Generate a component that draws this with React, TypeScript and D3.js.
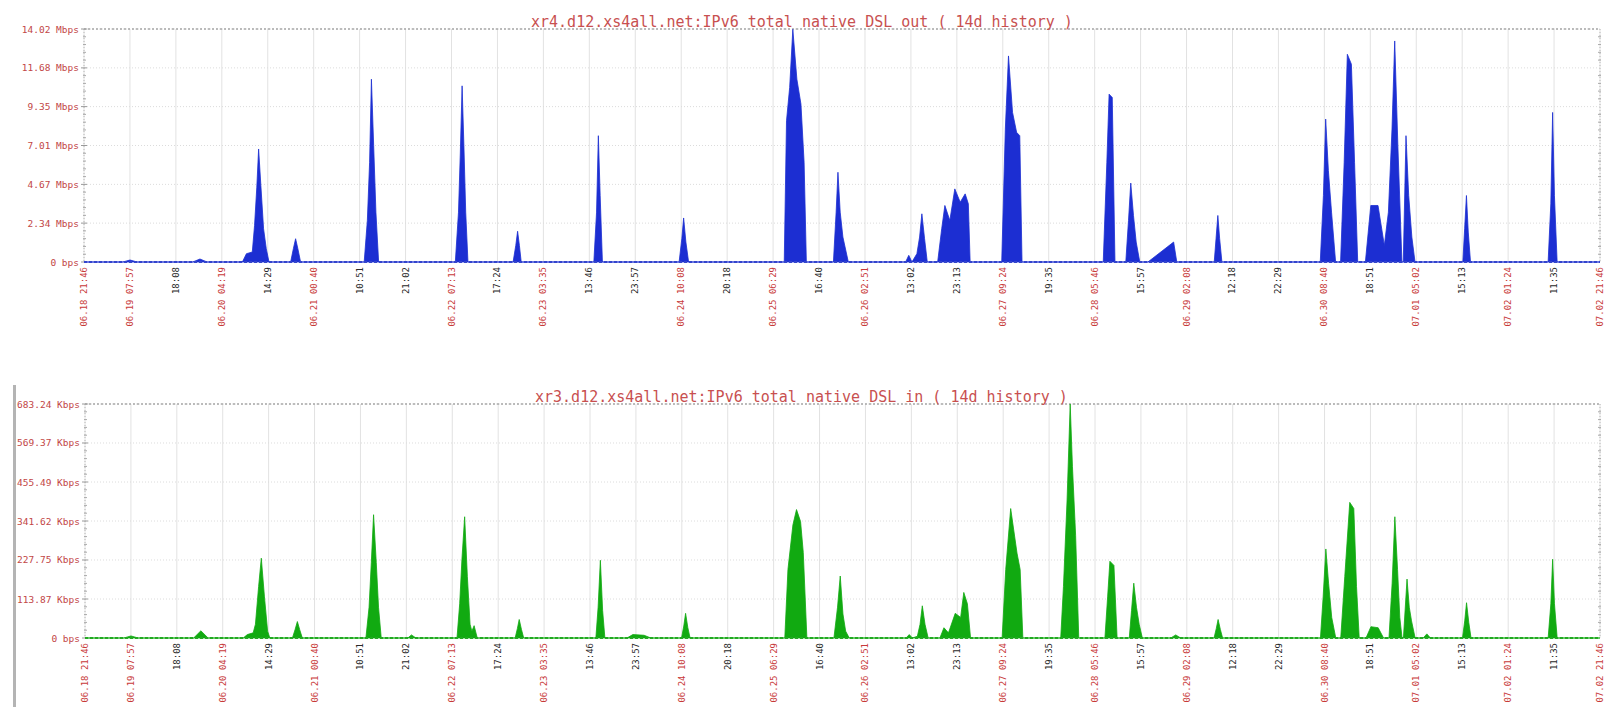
import React from "react";
import * as d3 from "d3";

const TITLE_OUT = "xr4.d12.xs4all.net:IPv6 total native DSL out ( 14d history )";
const TITLE_IN = "xr3.d12.xs4all.net:IPv6 total native DSL in ( 14d history )";

const TOTAL_HOURS = 336;

const X_LABELS = [
  "06.18 21:46", "06.19 07:57", "18:08", "06.20 04:19", "14:29", "06.21 00:40",
  "10:51", "21:02", "06.22 07:13", "17:24", "06.23 03:35", "13:46", "23:57",
  "06.24 10:08", "20:18", "06.25 06:29", "16:40", "06.26 02:51", "13:02", "23:13",
  "06.27 09:24", "19:35", "06.28 05:46", "15:57", "06.29 02:08", "12:18", "22:29",
  "06.30 08:40", "18:51", "07.01 05:02", "15:13", "07.02 01:24", "11:35", "07.02 21:46",
];

const OUT_TICKS = [0, 2.34, 4.67, 7.01, 9.35, 11.68, 14.02];
const OUT_TICK_LABELS = ["0 bps", "2.34 Mbps", "4.67 Mbps", "7.01 Mbps", "9.35 Mbps", "11.68 Mbps", "14.02 Mbps"];
const IN_TICKS = [0, 113.87, 227.75, 341.62, 455.49, 569.37, 683.24];
const IN_TICK_LABELS = ["0 bps", "113.87 Kbps", "227.75 Kbps", "341.62 Kbps", "455.49 Kbps", "569.37 Kbps", "683.24 Kbps"];

// [hour since start, Mbps]
const OUT_SERIES: [number, number][] = [
  [0, 0], [8.6, 0], [10.2, 0.12], [11.8, 0],
  [24.1, 0], [25.7, 0.18], [27.3, 0],
  [35.1, 0], [36.0, 0.5], [37.3, 0.6], [37.8, 2.2], [38.3, 4.5], [38.7, 6.8], [39.2, 4.6], [39.8, 2.0], [40.4, 0.8], [41.0, 0],
  [45.8, 0], [46.4, 0.8], [46.9, 1.4], [47.4, 0.8], [48.0, 0],
  [62.1, 0], [62.8, 2.5], [63.3, 6.0], [63.7, 11.0], [64.2, 7.0], [64.7, 3.0], [65.3, 0],
  [82.3, 0], [83.0, 3.0], [83.4, 6.5], [83.8, 10.6], [84.2, 7.0], [84.6, 3.0], [85.1, 0],
  [95.1, 0], [95.7, 1.0], [96.1, 1.85], [96.5, 1.0], [96.9, 0],
  [113.0, 0], [113.6, 3.0], [114.0, 7.6], [114.4, 4.0], [114.9, 0],
  [131.9, 0], [132.5, 1.4], [132.9, 2.65], [133.4, 1.2], [134.0, 0],
  [155.2, 0], [155.7, 8.5], [156.4, 10.5], [157.1, 14.0], [158.0, 11.0], [158.9, 9.5], [159.6, 6.0], [160.1, 0],
  [166.1, 0], [166.7, 3.0], [167.1, 5.4], [167.6, 3.0], [168.2, 1.5], [169.4, 0],
  [182.1, 0], [182.8, 0.4], [183.5, 0], [184.6, 0.5], [185.2, 1.5], [185.7, 2.9], [186.3, 1.4], [186.9, 0],
  [189.2, 0], [190.1, 2.0], [190.8, 3.4], [191.9, 2.5], [193.0, 4.4], [194.2, 3.6], [195.3, 4.1], [196.0, 3.5], [196.4, 0],
  [203.4, 0], [204.2, 8.0], [204.9, 12.4], [205.8, 9.0], [206.7, 7.8], [207.4, 7.6], [207.9, 0],
  [225.9, 0], [226.7, 6.0], [227.2, 10.1], [227.9, 9.9], [228.5, 0],
  [230.9, 0], [231.5, 2.5], [232.0, 4.75], [232.6, 2.8], [233.2, 1.2], [234.0, 0],
  [235.8, 0], [241.5, 1.2], [242.2, 0],
  [250.5, 0], [250.9, 1.4], [251.3, 2.8], [251.7, 1.4], [252.2, 0],
  [274.0, 0], [274.7, 4.0], [275.2, 8.6], [275.8, 5.5], [276.5, 3.0], [277.4, 0],
  [278.5, 0], [279.3, 6.0], [280.0, 12.5], [280.9, 11.9], [281.6, 6.0], [282.3, 0],
  [284.0, 0], [285.2, 3.4], [286.8, 3.4], [288.2, 1.0], [289.1, 3.0], [289.9, 8.0], [290.5, 13.3], [291.2, 7.0], [292.1, 0],
  [292.4, 0], [293.0, 7.6], [293.6, 4.0], [294.3, 1.5], [295.0, 0],
  [305.6, 0], [306.0, 2.0], [306.4, 4.0], [306.8, 1.8], [307.3, 0],
  [324.5, 0], [325.1, 3.5], [325.5, 9.0], [325.9, 4.0], [326.5, 0],
  [336, 0],
];

// [hour since start, Kbps]
const IN_SERIES: [number, number][] = [
  [0, 0], [8.6, 0], [10.2, 6], [11.8, 0],
  [24.1, 0], [25.7, 21], [27.3, 0],
  [35.1, 0], [36.0, 10], [37.3, 15], [37.8, 40], [38.5, 150], [39.1, 233], [39.8, 120], [40.5, 20], [41.0, 0],
  [46.0, 0], [46.6, 25], [47.1, 48], [47.6, 25], [48.2, 0],
  [62.3, 0], [63.0, 90], [63.5, 220], [64.0, 360], [64.6, 220], [65.1, 90], [65.7, 0],
  [71.6, 0], [72.4, 9], [73.4, 0],
  [82.5, 0], [83.1, 100], [83.6, 230], [84.2, 354], [84.8, 180], [85.4, 40], [85.8, 20], [86.3, 36], [87.0, 0],
  [95.4, 0], [95.9, 28], [96.3, 54], [96.8, 25], [97.3, 0],
  [113.3, 0], [113.8, 90], [114.3, 227], [114.8, 80], [115.3, 0],
  [120.2, 0], [121.5, 10], [124.0, 8], [125.5, 0],
  [132.3, 0], [132.8, 35], [133.2, 72], [133.7, 30], [134.2, 0],
  [155.2, 0], [155.9, 200], [157.0, 330], [157.8, 375], [158.7, 340], [159.3, 250], [160.1, 0],
  [166.1, 0], [166.9, 90], [167.5, 181], [168.1, 70], [168.7, 20], [169.5, 0],
  [182.1, 0], [182.8, 10], [183.5, 0], [184.6, 5], [185.2, 40], [185.7, 94], [186.3, 40], [187.0, 0],
  [189.6, 0], [190.5, 30], [191.5, 15], [193.0, 72], [194.2, 60], [194.9, 133], [195.7, 100], [196.4, 0],
  [203.4, 0], [204.2, 200], [205.3, 378], [206.7, 248], [207.4, 200], [208.0, 0],
  [216.4, 0], [217.0, 150], [217.8, 400], [218.5, 683], [219.0, 500], [219.7, 300], [220.4, 0],
  [226.2, 0], [226.8, 120], [227.3, 224], [228.2, 212], [228.9, 0],
  [231.6, 0], [232.1, 80], [232.6, 160], [233.2, 90], [233.8, 40], [234.5, 0],
  [240.8, 0], [241.9, 9], [243.0, 0],
  [250.4, 0], [250.9, 28], [251.3, 54], [251.8, 25], [252.3, 0],
  [274.0, 0], [274.6, 120], [275.2, 260], [275.8, 160], [276.5, 60], [277.4, 0],
  [278.5, 0], [279.4, 180], [280.5, 396], [281.4, 378], [282.0, 150], [282.6, 0],
  [284.1, 0], [285.2, 33], [286.8, 30], [288.0, 0],
  [289.2, 0], [289.9, 160], [290.5, 354], [291.1, 200], [291.6, 60], [292.1, 0],
  [292.4, 0], [293.2, 172], [293.7, 90], [294.2, 50], [295.0, 0],
  [296.8, 0], [297.6, 12], [298.4, 0],
  [305.5, 0], [306.0, 50], [306.4, 103], [306.9, 45], [307.4, 0],
  [324.5, 0], [325.1, 100], [325.5, 230], [325.9, 100], [326.5, 0],
  [336, 0],
];

const MONO = "'DejaVu Sans Mono', 'Liberation Mono', monospace";

type PanelProps = {
  title: string;
  titleX: number;
  series: [number, number][];
  ticks: number[];
  tickLabels: string[];
  left: number;
  right: number;
  top: number;
  bottom: number;
  fill: string;
  zeroColor: string;
};

function Panel(p: PanelProps) {
  const x = d3.scaleLinear().domain([0, TOTAL_HOURS]).range([p.left, p.right]);
  const y = d3.scaleLinear().domain([0, p.ticks[p.ticks.length - 1]]).range([p.bottom, p.top]);
  const area = d3
    .area<[number, number]>()
    .x((d) => x(d[0]))
    .y0(y(0))
    .y1((d) => y(d[1]));
  const labelHours = X_LABELS.map((_, i) => (i * TOTAL_HOURS) / (X_LABELS.length - 1));
  const minor: number[] = [];
  for (let i = 0; i < p.ticks.length - 1; i++) {
    for (let j = 1; j < 5; j++) {
      minor.push(p.ticks[i] + ((p.ticks[i + 1] - p.ticks[i]) * j) / 5);
    }
  }
  return (
    <g>
      {labelHours.map((h, i) => (
        <line key={"vg" + i} x1={x(h)} x2={x(h)} y1={p.top} y2={p.bottom} stroke="#e2e2e2" strokeWidth={1} />
      ))}
      {p.ticks.slice(1).map((t, i) => (
        <line key={"hg" + i} x1={p.left} x2={p.right} y1={y(t)} y2={y(t)} stroke="#dcdcdc" strokeWidth={1} strokeDasharray="1,2" />
      ))}
      <line x1={p.left} x2={p.right} y1={p.top} y2={p.top} stroke="#a8a8a8" strokeWidth={1.5} strokeDasharray="2,2" />
      <line x1={p.left} x2={p.left} y1={p.top} y2={p.bottom} stroke="#b8b8b8" strokeWidth={1} strokeDasharray="1,2" />
      <line x1={p.right} x2={p.right} y1={p.top} y2={p.bottom} stroke="#b8b8b8" strokeWidth={1} strokeDasharray="1,2" />
      {minor.map((m, i) => (
        <g key={"mt" + i}>
          <line x1={p.left - 1} x2={p.left + 2} y1={y(m)} y2={y(m)} stroke="#aaa" strokeWidth={1} />
          <line x1={p.right - 2} x2={p.right + 1} y1={y(m)} y2={y(m)} stroke="#aaa" strokeWidth={1} />
        </g>
      ))}
      {p.ticks.map((t, i) => (
        <line key={"mj" + i} x1={p.left - 3} x2={p.left + 3} y1={y(t)} y2={y(t)} stroke="#999" strokeWidth={1} />
      ))}
      <path d={area(p.series) || ""} fill={p.fill} stroke={p.fill} strokeWidth={0.8} strokeLinejoin="round" />
      <line x1={p.left} x2={p.right} y1={y(0)} y2={y(0)} stroke={p.zeroColor} strokeWidth={2} strokeDasharray="3,2" />
      {p.ticks.map((t, i) => (
        <text
          key={"yl" + i}
          x={p.left - 5}
          y={y(t)}
          textAnchor="end"
          dominantBaseline="central"
          fontFamily={MONO}
          fontSize={9.5}
          fill="#c24646"
        >
          {p.tickLabels[i]}
        </text>
      ))}
      {labelHours.map((h, i) => {
        const lab = X_LABELS[i];
        const red = lab.length > 5;
        return (
          <text
            key={"xl" + i}
            transform={`translate(${x(h)},${p.bottom + 5}) rotate(-90)`}
            textAnchor="end"
            dominantBaseline="central"
            fontFamily={MONO}
            fontSize={9}
            fill={red ? "#c83a3a" : "#2a2a2a"}
          >
            {lab}
          </text>
        );
      })}
      <text x={p.titleX} y={p.top - 2} fontFamily={MONO} fontSize={15} fill="#c85050">
        {p.title}
      </text>
    </g>
  );
}

export default function App() {
  return (
    <svg
      width={1608}
      height={707}
      style={{ position: "absolute", left: 0, top: 0, background: "#fff" }}
    >
      <rect x={0} y={0} width={1608} height={707} fill="#fff" />
      <Panel
        title={TITLE_OUT}
        titleX={531}
        series={OUT_SERIES}
        ticks={OUT_TICKS}
        tickLabels={OUT_TICK_LABELS}
        left={84}
        right={1600}
        top={29}
        bottom={262}
        fill="#1c2ed2"
        zeroColor="#3344cc"
      />
      <rect x={13} y={385} width={3} height={322} fill="#b4b4b4" />
      <Panel
        title={TITLE_IN}
        titleX={535}
        series={IN_SERIES}
        ticks={IN_TICKS}
        tickLabels={IN_TICK_LABELS}
        left={85}
        right={1600}
        top={404}
        bottom={638}
        fill="#11aa11"
        zeroColor="#22aa22"
      />
    </svg>
  );
}
